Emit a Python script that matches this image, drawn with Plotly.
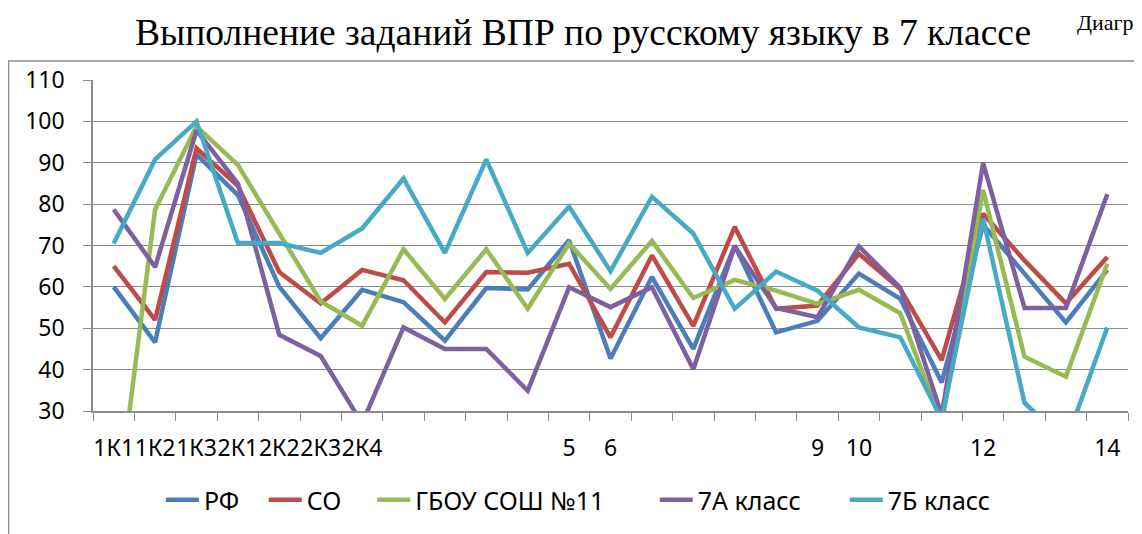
import plotly.graph_objects as go

# task ids on the x axis and the labels Excel actually showed
tasks = ["1К1", "1К2", "1К3", "2К1", "2К2", "2К3", "2К4", "3(1)", "3(2)", "4(1)", "4(2)", "5", "6",
         "7(1)", "7(2)", "8(1)", "8(2)", "9", "10", "11(1)", "11(2)", "12", "13(1)", "13(2)", "14"]
tick_labels = ["1К1", "1К2", "1К3", "2К1", "2К2", "2К3", "2К4", "", "", "", "", "5", "6",
               "", "", "", "", "9", "10", "", "", "12", "", "", "14"]

rf = [60, 46.6, 92, 82.2, 60, 47.6, 59.3, 56.3, 47, 59.7, 59.4, 71.3, 42.7,
      62.4, 45, 70, 49, 51.8, 63.2, 57.1, 36.9, 75, 63.2, 51.4, 64.1]
so = [65, 52, 93.5, 84.4, 63.6, 56, 64.1, 61.6, 51.4, 63.6, 63.4, 65.6, 47.8,
      67.6, 50.6, 74.5, 54.7, 55.5, 68, 59.5, 42.3, 77.7, 66.4, 56, 67.2]
school = [0, 78.7, 98.8, 89.5, 72.9, 56.5, 50.6, 69.1, 57.1, 69.1, 54.7, 70.5, 59.5,
          71.1, 57.3, 61.7, 59.1, 55.9, 59.3, 53.6, 27, 83.4, 43.1, 38.3, 65.6]
cls_7a = [78.7, 64.8, 97.8, 85, 48.4, 43.3, 27, 50.2, 45, 45, 34.9, 59.9, 55.1,
          59.9, 40.1, 69.8, 54.9, 52.7, 69.8, 59.8, 29, 89.9, 54.9, 54.9, 82.4]
cls_7b = [70.5, 90.8, 100, 70.6, 70.6, 68.2, 74.1, 86.2, 68.2, 90.8, 68.2, 79.4, 63.8,
          81.8, 72.9, 54.7, 63.7, 59.1, 50.2, 47.8, 28, 76.5, 32, 22.4, 50.2]

series = [
    ("РФ", rf, "#4a7ebb", 3),
    ("СО", so, "#be4b48", 4),
    ("ГБОУ СОШ №11", school, "#98b954", 7),
    ("7А класс", cls_7a, "#7d60a0", 6),
    ("7Б класс", cls_7b, "#46aac5", 0),
]

fig = go.Figure()
for name, vals, color, pad in series:
    # trailing no-break spaces widen the gap between legend entries like in Excel
    fig.add_trace(go.Scatter(x=tasks, y=vals, name=name + "\u00a0" * pad, mode="lines",
                             line=dict(color=color, width=4.5)))

sans = "Noto Sans"
grey = "#8c8c8c"

# the page body adds 8px on top/left, margins are set with that in mind
fig.update_layout(
    width=1142, height=534,
    margin=dict(l=85, r=22, t=72, b=131),
    paper_bgcolor="white", plot_bgcolor="white",
    font=dict(family=sans, size=23, color="black"),
    title=dict(text="Выполнение заданий ВПР по русскому языку в 7 классе",
               font=dict(family="Liberation Serif", size=37.5, color="black"),
               x=0.5035, xanchor="center", y=0.955, yanchor="middle"),
    showlegend=True,
    legend=dict(orientation="h", x=0.469, xanchor="center", y=-0.269, yanchor="middle",
                font=dict(family=sans, size=25), itemwidth=33, tracegroupgap=0),
)

fig.update_xaxes(type="category", tickmode="array", tickvals=tasks, ticktext=tick_labels,
                 range=[-0.5, len(tasks) - 0.5],
                 tickson="boundaries", ticks="outside", ticklen=8, tickcolor=grey,
                 showline=True, linecolor=grey, linewidth=1.5, showgrid=False,
                 tickangle=0, ticklabelstandoff=16, tickfont=dict(size=23))
fig.update_yaxes(range=[30, 110], dtick=10, ticks="outside", ticklen=8, tickcolor=grey,
                 showline=True, linecolor=grey, linewidth=1.5,
                 showgrid=True, gridcolor=grey, gridwidth=1.2, zeroline=False,
                 ticklabelstandoff=14, tickfont=dict(size=23))

# outer chart frame, cut by the page edge
fig.add_shape(type="rect", xref="paper", yref="paper",
              x0=-0.0816, y0=-0.42, x1=1.03, y1=1.0574,
              line=dict(color=grey, width=1.5), layer="below")

fig.add_annotation(text="Диаграмма", xref="paper", yref="paper",
                   x=0.949, y=1.2175, xanchor="left", yanchor="top",
                   showarrow=False, font=dict(family="Liberation Serif", size=22, color="black"))

fig.write_html("out.html")
